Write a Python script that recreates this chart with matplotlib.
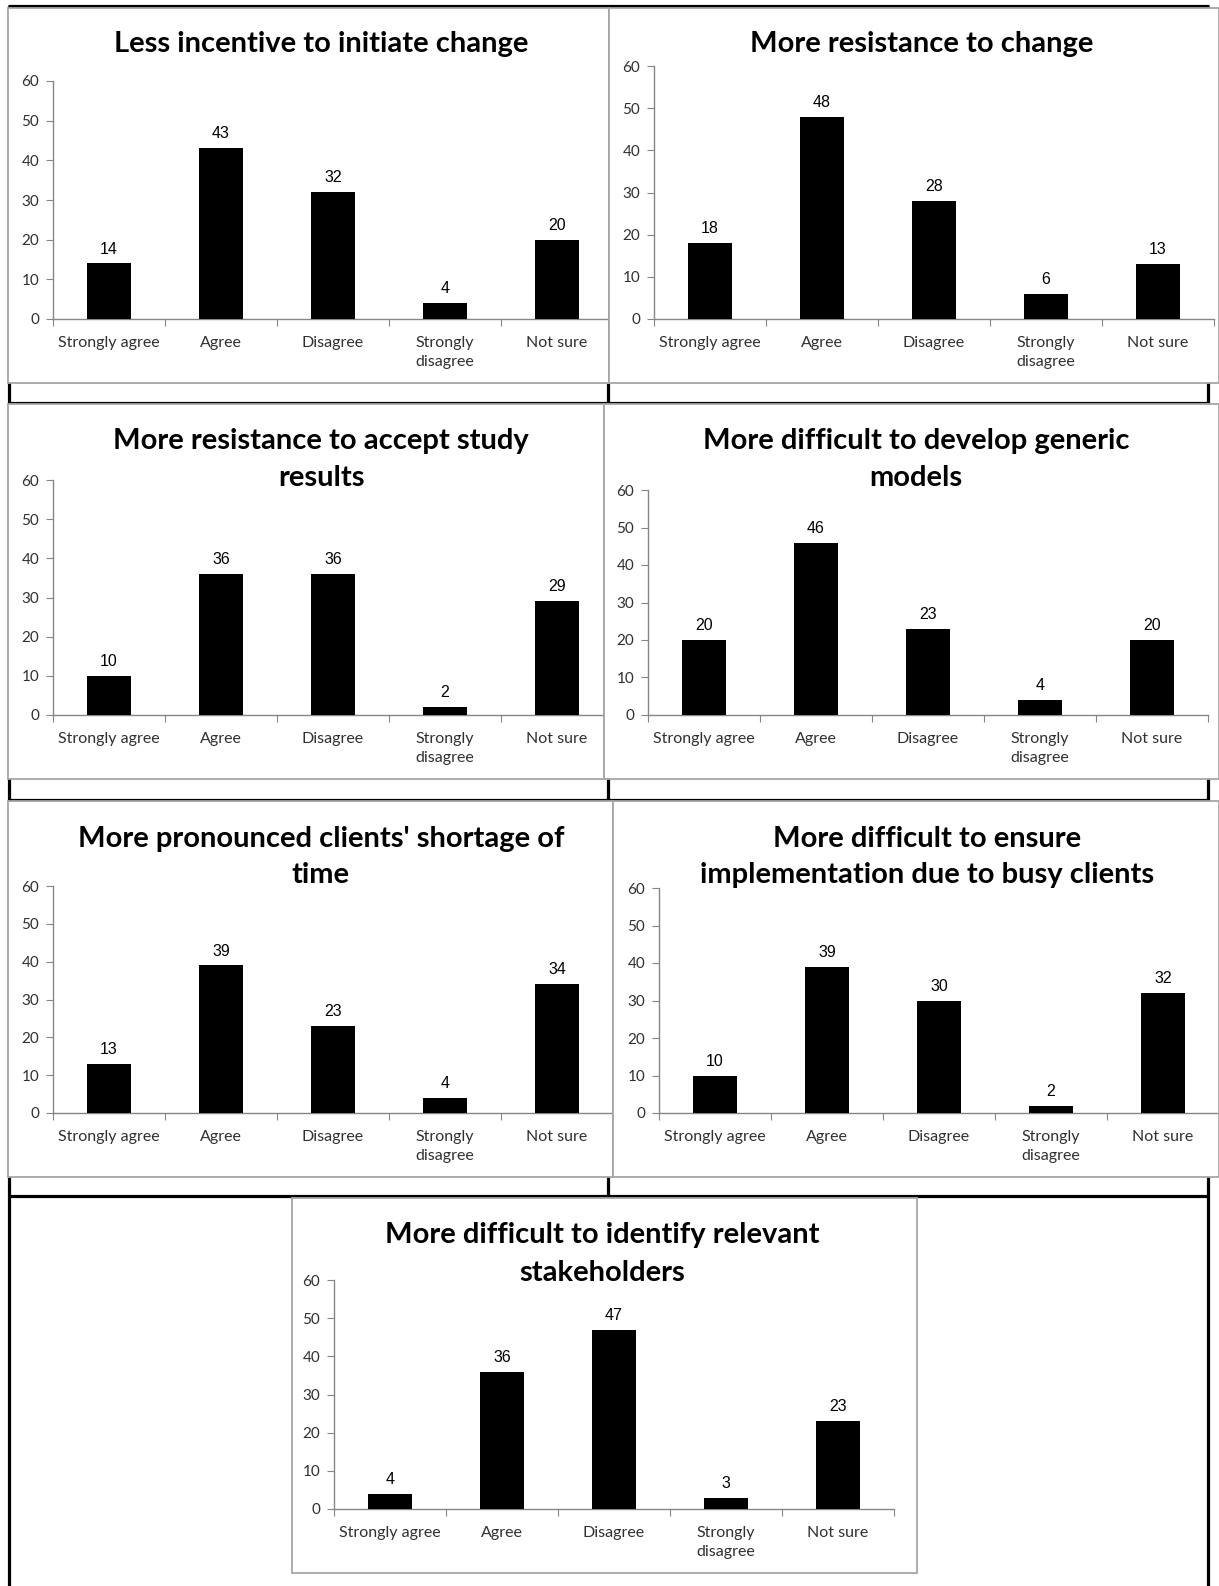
import matplotlib
matplotlib.use('Agg')
import matplotlib.pyplot as plt
from matplotlib.patches import Rectangle

# 데이터
categories = ['Strongly agree', 'Agree', 'Disagree', 'Strongly\ndisagree', 'Not sure']

titles = [
    'Less incentive to initiate change',
    'More resistance to change',
    'More resistance to accept study\nresults',
    'More difficult to develop generic\nmodels',
    "More pronounced clients' shortage of\ntime",
    'More difficult to ensure\nimplementation due to busy clients',
    'More difficult to identify relevant\nstakeholders',
]

less_incentive = [14, 43, 32, 4, 20]
resistance_change = [18, 48, 28, 6, 13]
resistance_results = [10, 36, 36, 2, 29]
generic_models = [20, 46, 23, 4, 20]
shortage_time = [13, 39, 23, 4, 34]
busy_clients = [10, 39, 30, 2, 32]
stakeholders = [4, 36, 47, 3, 23]

series = [less_incentive, resistance_change, resistance_results, generic_models,
          shortage_time, busy_clients, stakeholders]

y_ticks = [0, 10, 20, 30, 40, 50, 60]

# 레이아웃 (픽셀 단위, 위쪽 기준)
W, H = 1219, 1586
# frame box, axis left x, y pixel of 0, y pixel of 60, title line y's
panels = [
    ((8, 8, 609, 383), 53, 319, 81, [44]),
    ((609, 8, 1219, 383), 654, 319, 66, [44]),
    ((8, 404, 604, 779), 53, 715, 480, [441, 478]),
    ((604, 404, 1219, 779), 648, 715, 490, [441, 478]),
    ((8, 801, 613, 1177), 53, 1113, 886, [839, 875]),
    ((613, 801, 1219, 1177), 659, 1113, 888, [839, 875]),
    ((292, 1198, 917, 1573), 334, 1509, 1280, [1235, 1273]),
]
cat_w = 112  # 카테고리 하나의 폭(px)

plt.rcParams['font.family'] = ['Lato', 'DejaVu Sans']
fig = plt.figure(figsize=(W / 100, H / 100), dpi=100)

# 배경: 표 테두리
bg = fig.add_axes([0, 0, 1, 1])
bg.set_xlim(0, W)
bg.set_ylim(H, 0)
bg.axis('off')

blk = dict(color='black', lw=2.3, solid_capstyle='butt')
bg.plot([8, 1209], [6, 6], **blk)
for yy in [403, 800, 1196]:
    bg.plot([8, 1209], [yy, yy], **blk)
bg.plot([9, 9], [6, H], **blk)
bg.plot([1208, 1208], [6, H], **blk)
bg.plot([608, 608], [383, 1196], **blk)

# 차트 그리기
for (frame, ax0, y0, y60, title_ys), title, vals in zip(panels, titles, series):
    fx0, fy0, fx1, fy1 = frame
    bg.add_patch(Rectangle((fx0, fy0), fx1 - fx0, fy1 - fy0, facecolor='white',
                           edgecolor='#a6a6a6', lw=1.3, zorder=3))

    ax1 = min(ax0 + 5 * cat_w, fx1 - 2)
    xmax = -0.5 + (ax1 - ax0) / cat_w
    ax = fig.add_axes([ax0 / W, 1 - y0 / H, (ax1 - ax0) / W, (y0 - y60) / H])
    ax.patch.set_alpha(0)
    x = list(range(len(categories)))
    ax.bar(x, vals, width=0.4, color='black', zorder=3)
    for xi, v in zip(x, vals):
        ax.annotate(str(v), (xi, v), xytext=(0, 5), textcoords='offset points',
                    ha='center', va='bottom', fontsize=11.5, family='Liberation Sans')

    ax.set_xlim(-0.5, xmax)
    ax.set_ylim(0, 60)
    ax.set_yticks(y_ticks)
    ax.set_yticklabels([str(t) for t in y_ticks], fontsize=11, color='#303030')
    ax.set_xticks([b - 0.5 for b in range(6) if b - 0.5 <= xmax])
    ax.set_xticklabels([])
    ax.set_xticks(x, minor=True)
    ax.set_xticklabels(categories, minor=True, fontsize=11.5, color='#303030',
                       linespacing=1.45, va='top')
    ax.tick_params(axis='x', which='minor', length=0, pad=12)
    ax.tick_params(axis='x', which='major', length=5, color='#868686', direction='out')
    ax.tick_params(axis='y', length=5, color='#868686', pad=5)
    for s in ['top', 'right']:
        ax.spines[s].set_visible(False)
    for s in ['left', 'bottom']:
        ax.spines[s].set_color('#868686')
        ax.spines[s].set_linewidth(1)

    tx = ax0 + 268
    for line, ty in zip(title.split('\n'), title_ys):
        bg.text(tx, ty, line, ha='center', va='center', fontsize=21,
                fontweight='bold', zorder=4)

fig.savefig('out.png', dpi=100)
